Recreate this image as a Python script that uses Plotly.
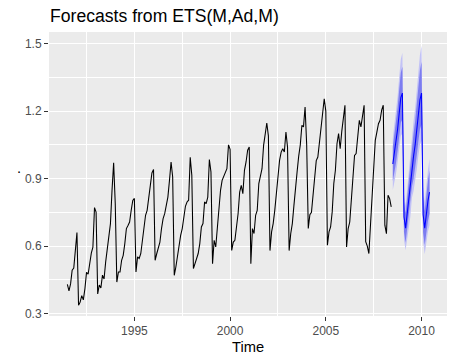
import plotly.graph_objects as go

# Monthly corticosteroid drug sales, Jul 1991 - Jun 2008
start_year = 1991
start_month = 7
history = [
    0.430, 0.401, 0.432, 0.493, 0.502, 0.603,
    0.660, 0.337, 0.351, 0.380, 0.361, 0.411, 0.483, 0.475, 0.535, 0.569, 0.595, 0.771,
    0.751, 0.387, 0.427, 0.414, 0.471, 0.454, 0.530, 0.585, 0.640, 0.700, 0.850, 0.970,
    0.790, 0.440, 0.485, 0.485, 0.537, 0.559, 0.611, 0.678, 0.692, 0.707, 0.759, 0.803,
    0.812, 0.485, 0.552, 0.545, 0.566, 0.618, 0.663, 0.737, 0.759, 0.818, 0.863, 0.925,
    0.940, 0.537, 0.566, 0.599, 0.618, 0.678, 0.722, 0.744, 0.789, 0.818, 0.892, 0.974,
    0.907, 0.470, 0.507, 0.559, 0.596, 0.648, 0.678, 0.737, 0.777, 0.796, 0.804, 0.995,
    0.915, 0.500, 0.522, 0.552, 0.567, 0.611, 0.685, 0.700, 0.796, 0.789, 0.818, 0.985,
    0.930, 0.522, 0.626, 0.596, 0.685, 0.774, 0.848, 0.892, 0.910, 0.922, 0.944, 1.050,
    1.030, 0.581, 0.618, 0.626, 0.685, 0.744, 0.840, 0.870, 0.833, 0.937, 0.974, 1.026,
    1.040, 0.522, 0.678, 0.656, 0.737, 0.759, 0.878, 0.907, 0.944, 1.048, 1.100, 1.147,
    1.090, 0.580, 0.663, 0.700, 0.759, 0.840, 0.915, 0.981, 1.018, 1.033, 1.018, 1.107,
    1.040, 0.580, 0.655, 0.700, 0.780, 0.878, 0.930, 1.000, 1.050, 1.137, 1.130, 1.218,
    1.050, 0.678, 0.740, 0.750, 0.826, 0.893, 0.980, 0.996, 1.063, 1.152, 1.211, 1.255,
    1.200, 0.604, 0.663, 0.685, 0.752, 0.878, 0.937, 1.055, 1.100, 1.033, 1.110, 1.180,
    1.226, 0.596, 0.678, 0.707, 0.807, 0.863, 1.003, 1.011, 1.100, 1.159, 1.130, 1.181,
    1.226, 0.620, 0.600, 0.567, 0.693, 0.848, 0.952, 1.070, 1.107, 1.144, 1.159, 1.204,
    1.226, 0.693, 0.655, 0.826, 0.811, 0.774,
]

# ETS(M,Ad,M) forecasts, Jul 2008 - Jun 2010
fc_mean = [0.965, 1.010, 1.060, 1.120, 1.190, 1.260, 1.280, 0.730, 0.680, 0.750, 0.800, 0.860,
           0.960, 1.000, 1.050, 1.120, 1.190, 1.250, 1.280, 0.740, 0.680, 0.750, 0.800, 0.840]
lo80 = [0.889, 0.928, 0.970, 1.025, 1.085, 1.149, 1.163, 0.663, 0.616, 0.679, 0.722, 0.776,
        0.866, 0.899, 0.944, 1.003, 1.066, 1.119, 1.142, 0.660, 0.605, 0.667, 0.711, 0.744]
hi80 = [1.041, 1.092, 1.150, 1.215, 1.295, 1.371, 1.397, 0.797, 0.744, 0.821, 0.878, 0.944,
        1.054, 1.101, 1.156, 1.237, 1.314, 1.381, 1.418, 0.820, 0.755, 0.833, 0.889, 0.936]
lo95 = [0.849, 0.884, 0.922, 0.974, 1.029, 1.090, 1.101, 0.628, 0.581, 0.641, 0.680, 0.731,
        0.816, 0.845, 0.887, 0.941, 1.000, 1.050, 1.069, 0.618, 0.564, 0.622, 0.664, 0.693]
hi95 = [1.081, 1.136, 1.198, 1.266, 1.351, 1.430, 1.459, 0.832, 0.779, 0.859, 0.920, 0.989,
        1.104, 1.155, 1.213, 1.299, 1.380, 1.450, 1.491, 0.862, 0.796, 0.878, 0.936, 0.987]

y_ticks = [0.3, 0.6, 0.9, 1.2, 1.5]
y_minor = [0.45, 0.75, 1.05, 1.35]
x_ticks = [1995, 2000, 2005, 2010]
x_minor = [1992.5, 1997.5, 2002.5, 2007.5]

t0 = start_year + (start_month - 1) / 12
t_hist = [t0 + i / 12 for i in range(len(history))]
t_fc = [t0 + (len(history) + i) / 12 for i in range(len(fc_mean))]

FONT = "Liberation Sans, Arial, sans-serif"
W, H = 455, 362
ML, MR, MT, MB = 49, 8, 32, 46
PW, PH = W - ML - MR, H - MT - MB

fig = go.Figure()

fig.add_trace(go.Scatter(x=t_fc, y=lo95, mode="lines", line=dict(width=0),
                         showlegend=False, hoverinfo="skip"))
fig.add_trace(go.Scatter(x=t_fc, y=hi95, mode="lines", line=dict(width=0),
                         fill="tonexty", fillcolor="#C2C2F6", showlegend=False, hoverinfo="skip"))
fig.add_trace(go.Scatter(x=t_fc, y=lo80, mode="lines", line=dict(width=0),
                         showlegend=False, hoverinfo="skip"))
fig.add_trace(go.Scatter(x=t_fc, y=hi80, mode="lines", line=dict(width=0),
                         fill="tonexty", fillcolor="#7C7CF0", showlegend=False, hoverinfo="skip"))
fig.add_trace(go.Scatter(x=t_hist, y=history, mode="lines",
                         line=dict(color="black", width=1.07), showlegend=False))
fig.add_trace(go.Scatter(x=t_fc, y=fc_mean, mode="lines",
                         line=dict(color="#0000FF", width=1.07), showlegend=False))

axis_common = dict(
    automargin=False,
    showline=False, zeroline=False,
    showgrid=True, gridcolor="white", gridwidth=1.07,
    ticks="outside", ticklen=4, tickwidth=1.07, tickcolor="#333333",
    tickfont=dict(family=FONT, size=12, color="#4D4D4D"),
)

fig.update_xaxes(
    range=[1990.54, 2011.33], tickvals=x_ticks, ticktext=[str(v) for v in x_ticks],
    minor=dict(tickvals=x_minor, showgrid=True, gridcolor="white", gridwidth=0.55, ticks=""),
    **axis_common,
)
fig.update_yaxes(
    range=[0.2893, 1.5516], tickvals=y_ticks, ticktext=[f"{v:.1f}" for v in y_ticks],
    minor=dict(tickvals=y_minor, showgrid=True, gridcolor="white", gridwidth=0.55, ticks=""),
    **axis_common,
)

def px_x(x):
    return (x - ML) / PW

def px_y(y):
    return (H - MB - y) / PH

fig.add_annotation(text="Forecasts from ETS(M,Ad,M)", xref="paper", yref="paper",
                   x=px_x(48), y=px_y(15.5), xanchor="left", yanchor="middle", showarrow=False,
                   font=dict(family=FONT, size=17.6, color="black"))
fig.add_annotation(text="Time", xref="paper", yref="paper",
                   x=px_x(248), y=px_y(346.5), xanchor="center", yanchor="middle",
                   showarrow=False, font=dict(family=FONT, size=14.7, color="black"))
fig.add_annotation(text=".", xref="paper", yref="paper",
                   x=px_x(19), y=px_y(168), xanchor="center", yanchor="middle",
                   showarrow=False, font=dict(family=FONT, size=14.7, color="black"))

fig.update_layout(
    width=W, height=H,
    margin=dict(l=ML, r=MR, t=MT, b=MB),
    plot_bgcolor="#EBEBEB", paper_bgcolor="white",
    font=dict(family=FONT),
)

fig.write_html("out.html", config={"displayModeBar": False},
               post_script="document.body.style.margin='0px';")
